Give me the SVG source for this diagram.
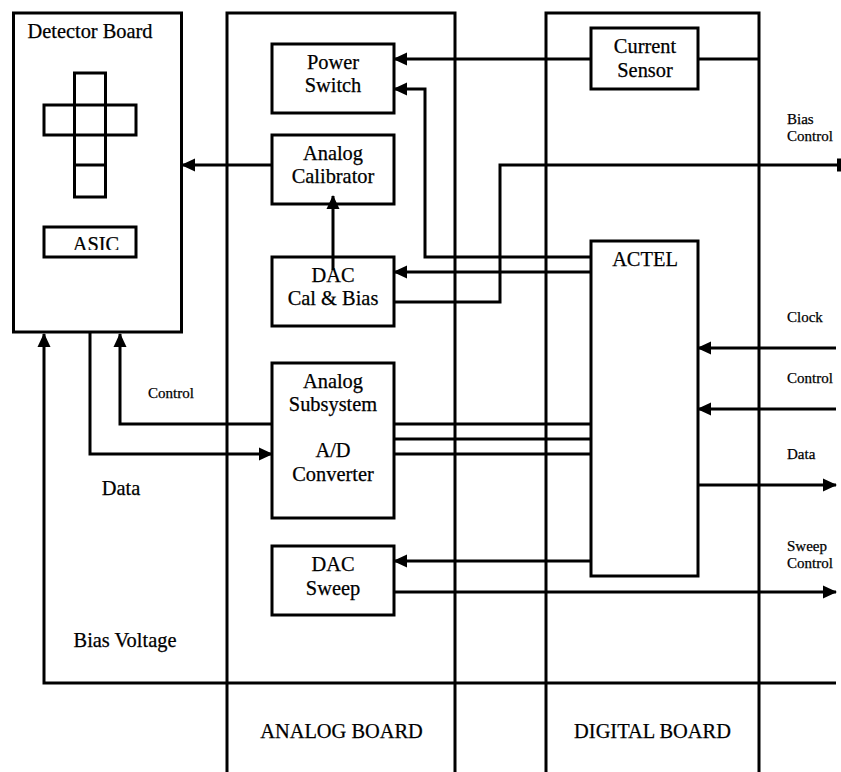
<svg xmlns="http://www.w3.org/2000/svg" width="841" height="772" viewBox="0 0 841 772">
<style>
.b{fill:none;stroke:#000;stroke-width:3}
.c{fill:none;stroke:#000;stroke-width:3}
.t{font-family:"Liberation Serif","Times New Roman",serif;font-size:20.400px;fill:#000;stroke:#000;stroke-width:.25px;text-anchor:middle}
.s{font-family:"Liberation Serif","Times New Roman",serif;font-size:15px;fill:#000;stroke:#000;stroke-width:.25px}
</style>
<defs>
<marker id="a" markerUnits="userSpaceOnUse" markerWidth="14" markerHeight="14" refX="13" refY="7" orient="auto"><path d="M0 0.500L14 7L0 13.500Z" fill="#000"/></marker>
<clipPath id="ac"><rect x="44" y="227" width="92" height="23"/></clipPath>
</defs>
<rect width="841" height="772" fill="#fff"/>
<g id="boards">
<path class="b" d="M227 772V13H455V772"/>
<path class="b" d="M546 772V13H759V772"/>
<text class="t" x="341.500" y="738">ANALOG BOARD</text>
<text class="t" x="652.500" y="738">DIGITAL BOARD</text>
</g>
<g id="connectors">
<path class="c" marker-end="url(#a)" d="M591 59H394"/>
<path class="c" d="M698 59H759"/>
<path class="c" marker-end="url(#a)" d="M591 257H425V89H394"/>
<path class="c" marker-end="url(#a)" d="M591 272H394"/>
<path class="c" d="M394 302H500V165H837"/>
<path d="M837 158.500H841V171.500H837Z" fill="#000"/>
<path class="c" marker-end="url(#a)" d="M272 165H182"/>
<path class="c" marker-end="url(#a)" d="M333 270V196"/>
<path class="c" marker-end="url(#a)" d="M272 424H120V334"/>
<path class="c" marker-end="url(#a)" d="M90 333V454H272"/>
<path class="c" marker-end="url(#a)" d="M836 683H44V334"/>
<path class="c" d="M394 424H591M394 439H591M394 454H591"/>
<path class="c" marker-end="url(#a)" d="M591 561H394"/>
<path class="c" marker-end="url(#a)" d="M394 592H836"/>
<path class="c" marker-end="url(#a)" d="M836 348H698"/>
<path class="c" marker-end="url(#a)" d="M836 409H698"/>
<path class="c" marker-end="url(#a)" d="M698 485H836"/>
</g>
<g id="detector-board">
<rect class="b" x="13.500" y="13" width="168" height="319"/>
<text class="t" x="90" y="38">Detector Board</text>
<path class="b" d="M74.500 73H105.500V197H74.500ZM44 105H136V135H44ZM74.500 165H105.500"/>
</g>
<g id="asic">
<text class="t" x="96" y="251" clip-path="url(#ac)">ASIC</text>
<rect class="b" x="44" y="227" width="92" height="30"/>
</g>
<g id="power-switch"><rect class="b" x="272" y="44" width="122" height="69"/>
<text class="t" x="333" y="69">Power</text><text class="t" x="333" y="92">Switch</text></g>
<g id="analog-calibrator"><rect class="b" x="272" y="135" width="122" height="69"/>
<text class="t" x="333" y="160">Analog</text><text class="t" x="333" y="183">Calibrator</text></g>
<g id="dac-cal-bias"><rect class="b" x="272" y="257" width="122" height="69"/>
<text class="t" x="333" y="282">DAC</text><text class="t" x="333" y="305">Cal &amp; Bias</text></g>
<g id="analog-subsystem"><rect class="b" x="272" y="363" width="122" height="155"/>
<text class="t" x="333" y="388">Analog</text><text class="t" x="333" y="411">Subsystem</text>
<text class="t" x="333" y="457">A/D</text><text class="t" x="333" y="481">Converter</text></g>
<g id="dac-sweep"><rect class="b" x="272" y="546" width="122" height="69"/>
<text class="t" x="333" y="571">DAC</text><text class="t" x="333" y="595">Sweep</text></g>
<g id="current-sensor"><rect class="b" x="591" y="28" width="107" height="61"/>
<text class="t" x="645" y="53">Current</text><text class="t" x="645" y="77">Sensor</text></g>
<g id="actel"><rect class="b" x="591" y="241" width="107" height="335"/>
<text class="t" x="645" y="266">ACTEL</text></g>
<g id="labels">
<text class="s" x="148" y="398">Control</text>
<text class="t" x="121" y="495">Data</text>
<text class="t" x="125" y="647">Bias Voltage</text>
<text class="s" x="787" y="124">Bias</text>
<text class="s" x="787" y="141">Control</text>
<text class="s" x="787" y="322">Clock</text>
<text class="s" x="787" y="383">Control</text>
<text class="s" x="787" y="459">Data</text>
<text class="s" x="787" y="551">Sweep</text>
<text class="s" x="787" y="568">Control</text>
</g>
</svg>
